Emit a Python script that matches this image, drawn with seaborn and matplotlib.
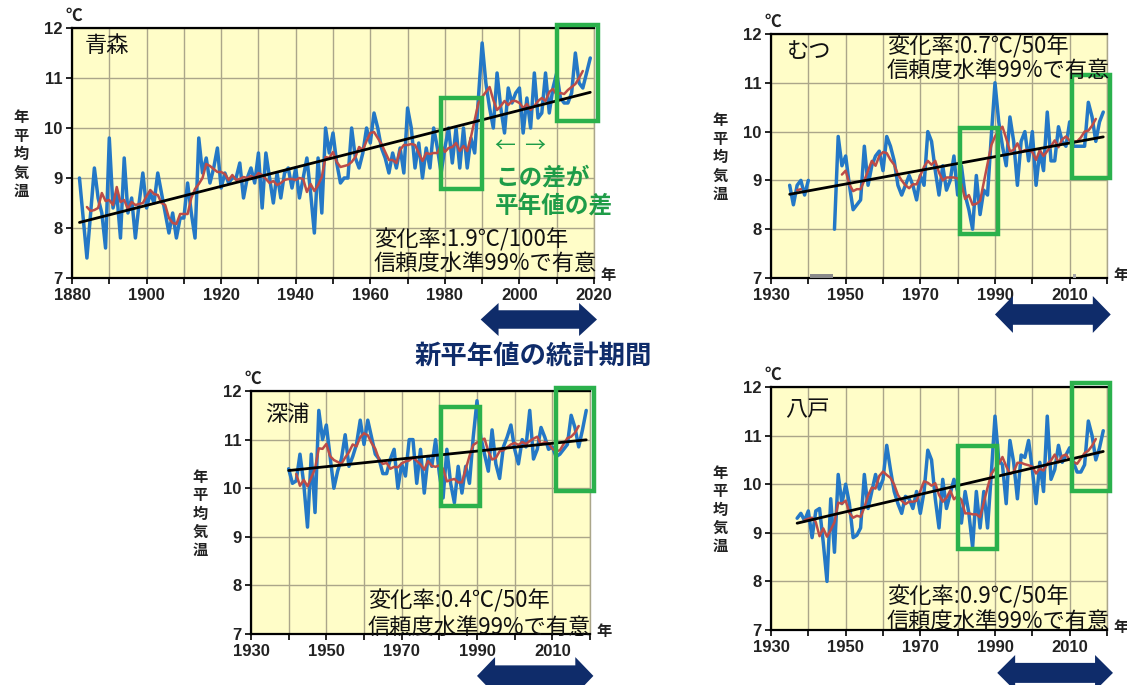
import numpy as np
import pandas as pd
import matplotlib
matplotlib.use("Agg")
import matplotlib.pyplot as plt
import matplotlib.transforms as mtransforms
from matplotlib.patches import Rectangle, Polygon
import seaborn as sns

sns.set_style("white")
plt.rcParams['font.family'] = ['Noto Sans CJK JP', 'DejaVu Sans']

# ---------------- data: annual mean temperature (deg C) ----------------
aomori_start = 1882
aomori_temp = [
    9.0, 8.2, 7.4, 8.3, 9.2, 8.6, 8.3, 7.6, 9.8, 8.4,
    8.7, 7.8, 9.4, 8.3, 8.6, 7.8, 8.5, 9.1, 8.4, 8.7,
    8.5, 9.1, 8.7, 8.3, 7.9, 8.3, 7.8, 8.2, 8.2, 8.9,
    8.3, 7.8, 9.8, 9.1, 9.4, 8.9, 9.2, 9.6, 8.8, 9.1,
    8.9, 9.0, 9.0, 9.3, 8.6, 9.0, 9.2, 8.9, 9.5, 8.4,
    9.5, 9.0, 8.5, 9.1, 8.6, 9.1, 9.2, 8.8, 9.2, 8.6,
    9.0, 9.4, 8.7, 7.9, 9.4, 8.3, 10.0, 9.5, 9.9, 9.3,
    8.9, 9.0, 9.0, 10.0, 9.4, 9.2, 9.5, 10.0, 9.7, 10.3,
    10.0, 9.6, 9.4, 9.1, 9.5, 9.2, 9.6, 9.1, 10.4, 10.0,
    9.2, 9.7, 9.0, 9.6, 9.2, 10.0, 9.6, 9.1, 9.6, 10.0,
    9.3, 10.0, 9.2, 10.0, 9.2, 9.8, 9.5, 10.6, 11.7, 10.9,
    10.4, 10.0, 11.1, 10.4, 9.9, 10.8, 10.5, 10.7, 10.8, 9.9,
    10.6, 10.0, 11.1, 10.2, 10.3, 11.1, 10.3, 10.8, 11.1, 10.6,
    10.5, 10.5, 10.7, 11.5, 10.9, 10.8, 11.1, 11.4,
]

mutsu_start = 1935
mutsu_temp = [
    8.9, 8.5, 8.9, 9.0, 8.7, 9.0,
    None, None, None, None, None, None,
    8.0, 9.9, 9.3, 9.5, 8.9, 8.4, 8.5, 8.6, 9.7, 8.9,
    9.3, 9.5, 9.6, 9.2, 9.9, 9.7, 9.4, 8.9, 8.7, 8.9,
    9.1, 8.9, 8.6, 9.1, 8.9, 10.0, 9.8, 9.2, 8.7, 9.3,
    8.8, 9.0, 9.5, 8.7, 9.3, 8.7, 8.4, 8.0, 9.1, 8.3,
    8.8, 8.7, 9.9, 11.0, 10.2, 9.7, 9.3, 10.3, 9.8, 8.9,
    9.8, 10.0, 9.4, 10.0, 8.9, 9.6, 9.2, 10.4, 9.4, 9.4,
    10.1, 9.8, 9.7, 10.2, 9.7, 9.7, 9.7, 9.7, 10.6, 10.3,
    9.8, 10.2, 10.4,
]

fukaura_start = 1940
fukaura_temp = [
    10.4, 10.1, 10.15, 10.7, 10.1, 9.2, 10.7, 9.5, 11.6, 11.0,
    11.3, 10.65, 10.0, 10.35, 10.6, 11.1, 10.45, 10.65, 10.9, 11.4,
    10.9, 11.4, 11.05, 10.7, 10.6, 10.3, 10.3, 10.6, 10.8, 10.0,
    10.5, 10.25, 11.0, 11.0, 10.1, 10.8, 9.9, 10.65, 10.45, 11.0,
    10.3, 9.8, 10.8, 10.1, 9.7, 10.45, 9.9, 10.45, 10.1, 11.05,
    11.8, 11.05, 10.7, 10.35, 11.2, 10.5, 10.2, 10.85, 11.05, 11.3,
    10.8, 10.5, 11.0, 10.85, 11.6, 10.6, 10.8, 11.25, 11.05, 10.8,
    10.85, 10.65, 10.7, 10.8, 10.9, 11.5, 11.25, 10.85, 11.2, 11.6,
]

hachinohe_start = 1937
hachinohe_temp = [
    9.3, 9.4, 9.25, 9.45, 8.9, 9.45, 9.5, 8.8, 8.0, 9.7,
    8.6, 10.2, 9.6, 10.0, 9.6, 8.9, 8.95, 9.1, 10.2, 9.5,
    9.85, 10.2, 9.9, 10.1, 10.8, 10.3, 9.85, 9.6, 9.4, 9.75,
    9.7, 9.5, 9.85, 9.4, 9.85, 10.7, 10.5, 9.7, 9.1, 10.1,
    9.5, 9.8, 10.1, 9.85, 9.2, 9.85, 9.4, 8.7, 9.85, 9.1,
    9.85, 9.1, 10.2, 11.4, 10.5, 10.4, 9.6, 10.9, 10.45, 9.7,
    10.6, 10.55, 10.9, 10.3, 9.6, 10.45, 9.85, 11.4, 10.1, 10.3,
    10.8, 10.45, 10.6, 10.75, 10.45, 10.25, 10.25, 10.4, 11.3, 11.0,
    10.5, 10.75, 11.1,
]

station_names = ["青森", "むつ", "深浦", "八戸"]
trend_labels = ["変化率:1.9℃/100年", "変化率:0.7℃/50年",
                "変化率:0.4℃/50年", "変化率:0.9℃/50年"]
trend_per_year = [1.9 / 100, 0.7 / 50, 0.4 / 50, 0.9 / 50]
signif_label = "信頼度水準99%で有意"
y_ticks = [7, 8, 9, 10, 11, 12]

# ---------------- styling ----------------
BLUE = "#2478C6"
RED = "#BC4C48"
GREEN = "#2BB14C"
GREEN_TXT = "#1E9C48"
NAVY = "#0F2C6A"
FACE = "#FFFDC8"
GRID = "#ABA68A"
NUM_FONT = ['Liberation Sans', 'DejaVu Sans']

W, H = 1127, 685
fig = plt.figure(figsize=(W / 100, H / 100), dpi=100)


def px_axes(left, top, right, bottom):
    return fig.add_axes([left / W, 1 - bottom / H, (right - left) / W, (bottom - top) / H])


def station_frame(start, temps):
    vals = np.array([np.nan if t is None else t for t in temps], dtype=float)
    df = pd.DataFrame({"year": np.arange(start, start + len(vals)), "temp": vals})
    df["seg"] = df["temp"].isna().cumsum()          # break the line at missing years
    df["mean5"] = df["temp"].rolling(5, center=True).mean()
    return df


def trend_frame(df, slope):
    ok = df.dropna(subset=["temp"])
    ybar, tbar = ok["year"].mean(), ok["temp"].mean()
    yrs = np.array([df["year"].min(), df["year"].max()])
    return pd.DataFrame({"year": yrs, "trend": tbar + slope * (yrs - ybar)})


def style_axes(ax, x0, x1, xlabel_step):
    ax.set_facecolor(FACE)
    ax.set_xlim(x0, x1)
    ax.set_ylim(7, 12)
    ax.set_xticks(range(x0, x1 + 1, xlabel_step))
    ax.set_xticks(range(x0, x1 + 1, 10), minor=True)
    ax.set_yticks(y_ticks)
    ax.set_xticklabels([str(v) for v in range(x0, x1 + 1, xlabel_step)],
                       fontfamily=NUM_FONT, fontsize=12, fontweight="bold", color="#222222")
    ax.set_yticklabels([str(v) for v in y_ticks],
                       fontfamily=NUM_FONT, fontsize=12, fontweight="bold", color="#222222")
    ax.grid(True, which="both", axis="x", color=GRID, lw=1.0)
    ax.grid(True, which="major", axis="y", color=GRID, lw=1.0)
    ax.tick_params(axis="both", which="both", direction="out", length=4, width=1.2,
                   color="black", pad=3, bottom=True, left=True)
    for side in ["top", "left", "bottom"]:
        ax.spines[side].set_color("black")
        ax.spines[side].set_linewidth(1.6)
    ax.spines["right"].set_color(GRID)
    ax.spines["right"].set_linewidth(1.0)
    ax.set_xlabel("")
    ax.set_ylabel("")
    ax.set_axisbelow(True)


def period_arrow(ax, x0, x1, y_top, y_bot, head=4.8, body=0.56):
    ym = (y_top + y_bot) / 2
    hb = (y_top - y_bot) * body / 2
    verts = [(x0, ym), (x0 + head, y_top), (x0 + head, ym + hb), (x1 - head, ym + hb),
             (x1 - head, y_top), (x1, ym), (x1 - head, y_bot), (x1 - head, ym - hb),
             (x0 + head, ym - hb), (x0 + head, y_bot)]
    trans = mtransforms.blended_transform_factory(ax.transData, ax.transAxes)
    ax.add_patch(Polygon(verts, closed=True, transform=trans, clip_on=False,
                         facecolor=NAVY, edgecolor="none", zorder=5))


def green_box(ax, x0, x1, y0, y1):
    ax.add_patch(Rectangle((x0, y0), x1 - x0, y1 - y0, fill=False, edgecolor=GREEN,
                           lw=3.2, clip_on=False, zorder=6))


panels = [
    dict(rect=(72, 28, 594, 278), start=aomori_start, temps=aomori_temp, x0=1880,
         name_pos=(0.025, 0.93), txt_pos=(0.578, 0.152, 0.058),
         boxes=[(1979, 1990, 8.78, 10.6), (2010, 2021, 10.14, 12.06)],
         arrow=(1989.6, 2020.8, -0.10, -0.232)),
    dict(rect=(771, 34, 1107, 278), start=mutsu_start, temps=mutsu_temp, x0=1930,
         name_pos=(0.048, 0.93), txt_pos=(0.345, 0.947, 0.852),
         boxes=[(1980.7, 1990.9, 7.9, 10.08), (2010.7, 2020.9, 9.05, 11.15)],
         arrow=(1990.0, 2021.0, -0.074, -0.225)),
    dict(rect=(251, 391, 590, 634), start=fukaura_start, temps=fukaura_temp, x0=1930,
         name_pos=(0.041, 0.905), txt_pos=(0.345, 0.136, 0.029),
         boxes=[(1980.4, 1990.9, 9.63, 11.67), (2011, 2021, 9.94, 12.06)],
         arrow=(1990.0, 2020.9, -0.095, -0.25)),
    dict(rect=(771, 387, 1107, 630), start=hachinohe_start, temps=hachinohe_temp, x0=1930,
         name_pos=(0.042, 0.905), txt_pos=(0.345, 0.136, 0.037),
         boxes=[(1980, 1990.5, 8.67, 10.79), (2010.6, 2020.8, 9.86, 12.08)],
         arrow=(1990.6, 2021.6, -0.103, -0.25)),
]

for i, p in enumerate(panels):
    ax = px_axes(*p["rect"])
    df = station_frame(p["start"], p["temps"])
    tr = trend_frame(df, trend_per_year[i])

    sns.lineplot(data=df, x="year", y="temp", units="seg", estimator=None,
                 color=BLUE, lw=2.5, ax=ax, legend=False, zorder=3)
    sns.lineplot(data=df, x="year", y="mean5", units="seg", estimator=None,
                 color=RED, lw=1.8, ax=ax, legend=False, zorder=4)
    sns.lineplot(data=tr, x="year", y="trend", color="black", lw=2.0, ax=ax,
                 legend=False, zorder=5)

    style_axes(ax, p["x0"], 2020, 20)

    ax.text(*p["name_pos"], station_names[i], transform=ax.transAxes, fontsize=16,
            ha="left", va="center", color="#111111")
    tx, ty1, ty2 = p["txt_pos"]
    ax.text(tx, ty1, trend_labels[i], transform=ax.transAxes, fontsize=16,
            ha="left", va="center", color="#111111", zorder=7)
    ax.text(tx, ty2, signif_label, transform=ax.transAxes, fontsize=16,
            ha="left", va="center", color="#111111", zorder=7)

    for b in p["boxes"]:
        green_box(ax, *b)
    period_arrow(ax, *p["arrow"])

    # unit labels around the frame
    left, top, right, bottom = p["rect"]
    fig.text((left + 2) / W, 1 - (top - 12) / H, "℃", fontsize=12, ha="center",
             va="center", fontweight="bold", color="#222222")
    fig.text((right + 14) / W, 1 - (bottom - 3) / H, "年", fontsize=11, ha="center",
             va="center", fontweight="bold", color="#222222")
    fig.text((left - 51) / W, 1 - ((top + bottom) / 2 + 1) / H, "\n".join("年平均気温"),
             fontsize=11, ha="center", va="center", linespacing=1.18,
             fontweight="bold", color="#222222")

    if i == 1:
        ax.add_patch(Rectangle((1940.5, 7.0), 6.2, 0.09, facecolor="#8A8A8A",
                               edgecolor="none", zorder=4))
        ax.add_patch(Rectangle((2011.0, 7.0), 0.8, 0.09, facecolor="#A8A8A8",
                               edgecolor="none", zorder=4))

# explanatory notes
fig.text(495 / W, 1 - 146 / H, "←  →", fontsize=15, color=GREEN_TXT, ha="left", va="center")
fig.text(495 / W, 1 - 178 / H, "この差が", fontsize=17, color=GREEN_TXT,
         fontweight="bold", ha="left", va="center")
fig.text(495 / W, 1 - 207 / H, "平年値の差", fontsize=17, color=GREEN_TXT,
         fontweight="bold", ha="left", va="center")
fig.text(533 / W, 1 - 356 / H, "新平年値の統計期間", fontsize=19, color=NAVY,
         fontweight="bold", ha="center", va="center")

fig.savefig("out.png", dpi=100, facecolor="white")
